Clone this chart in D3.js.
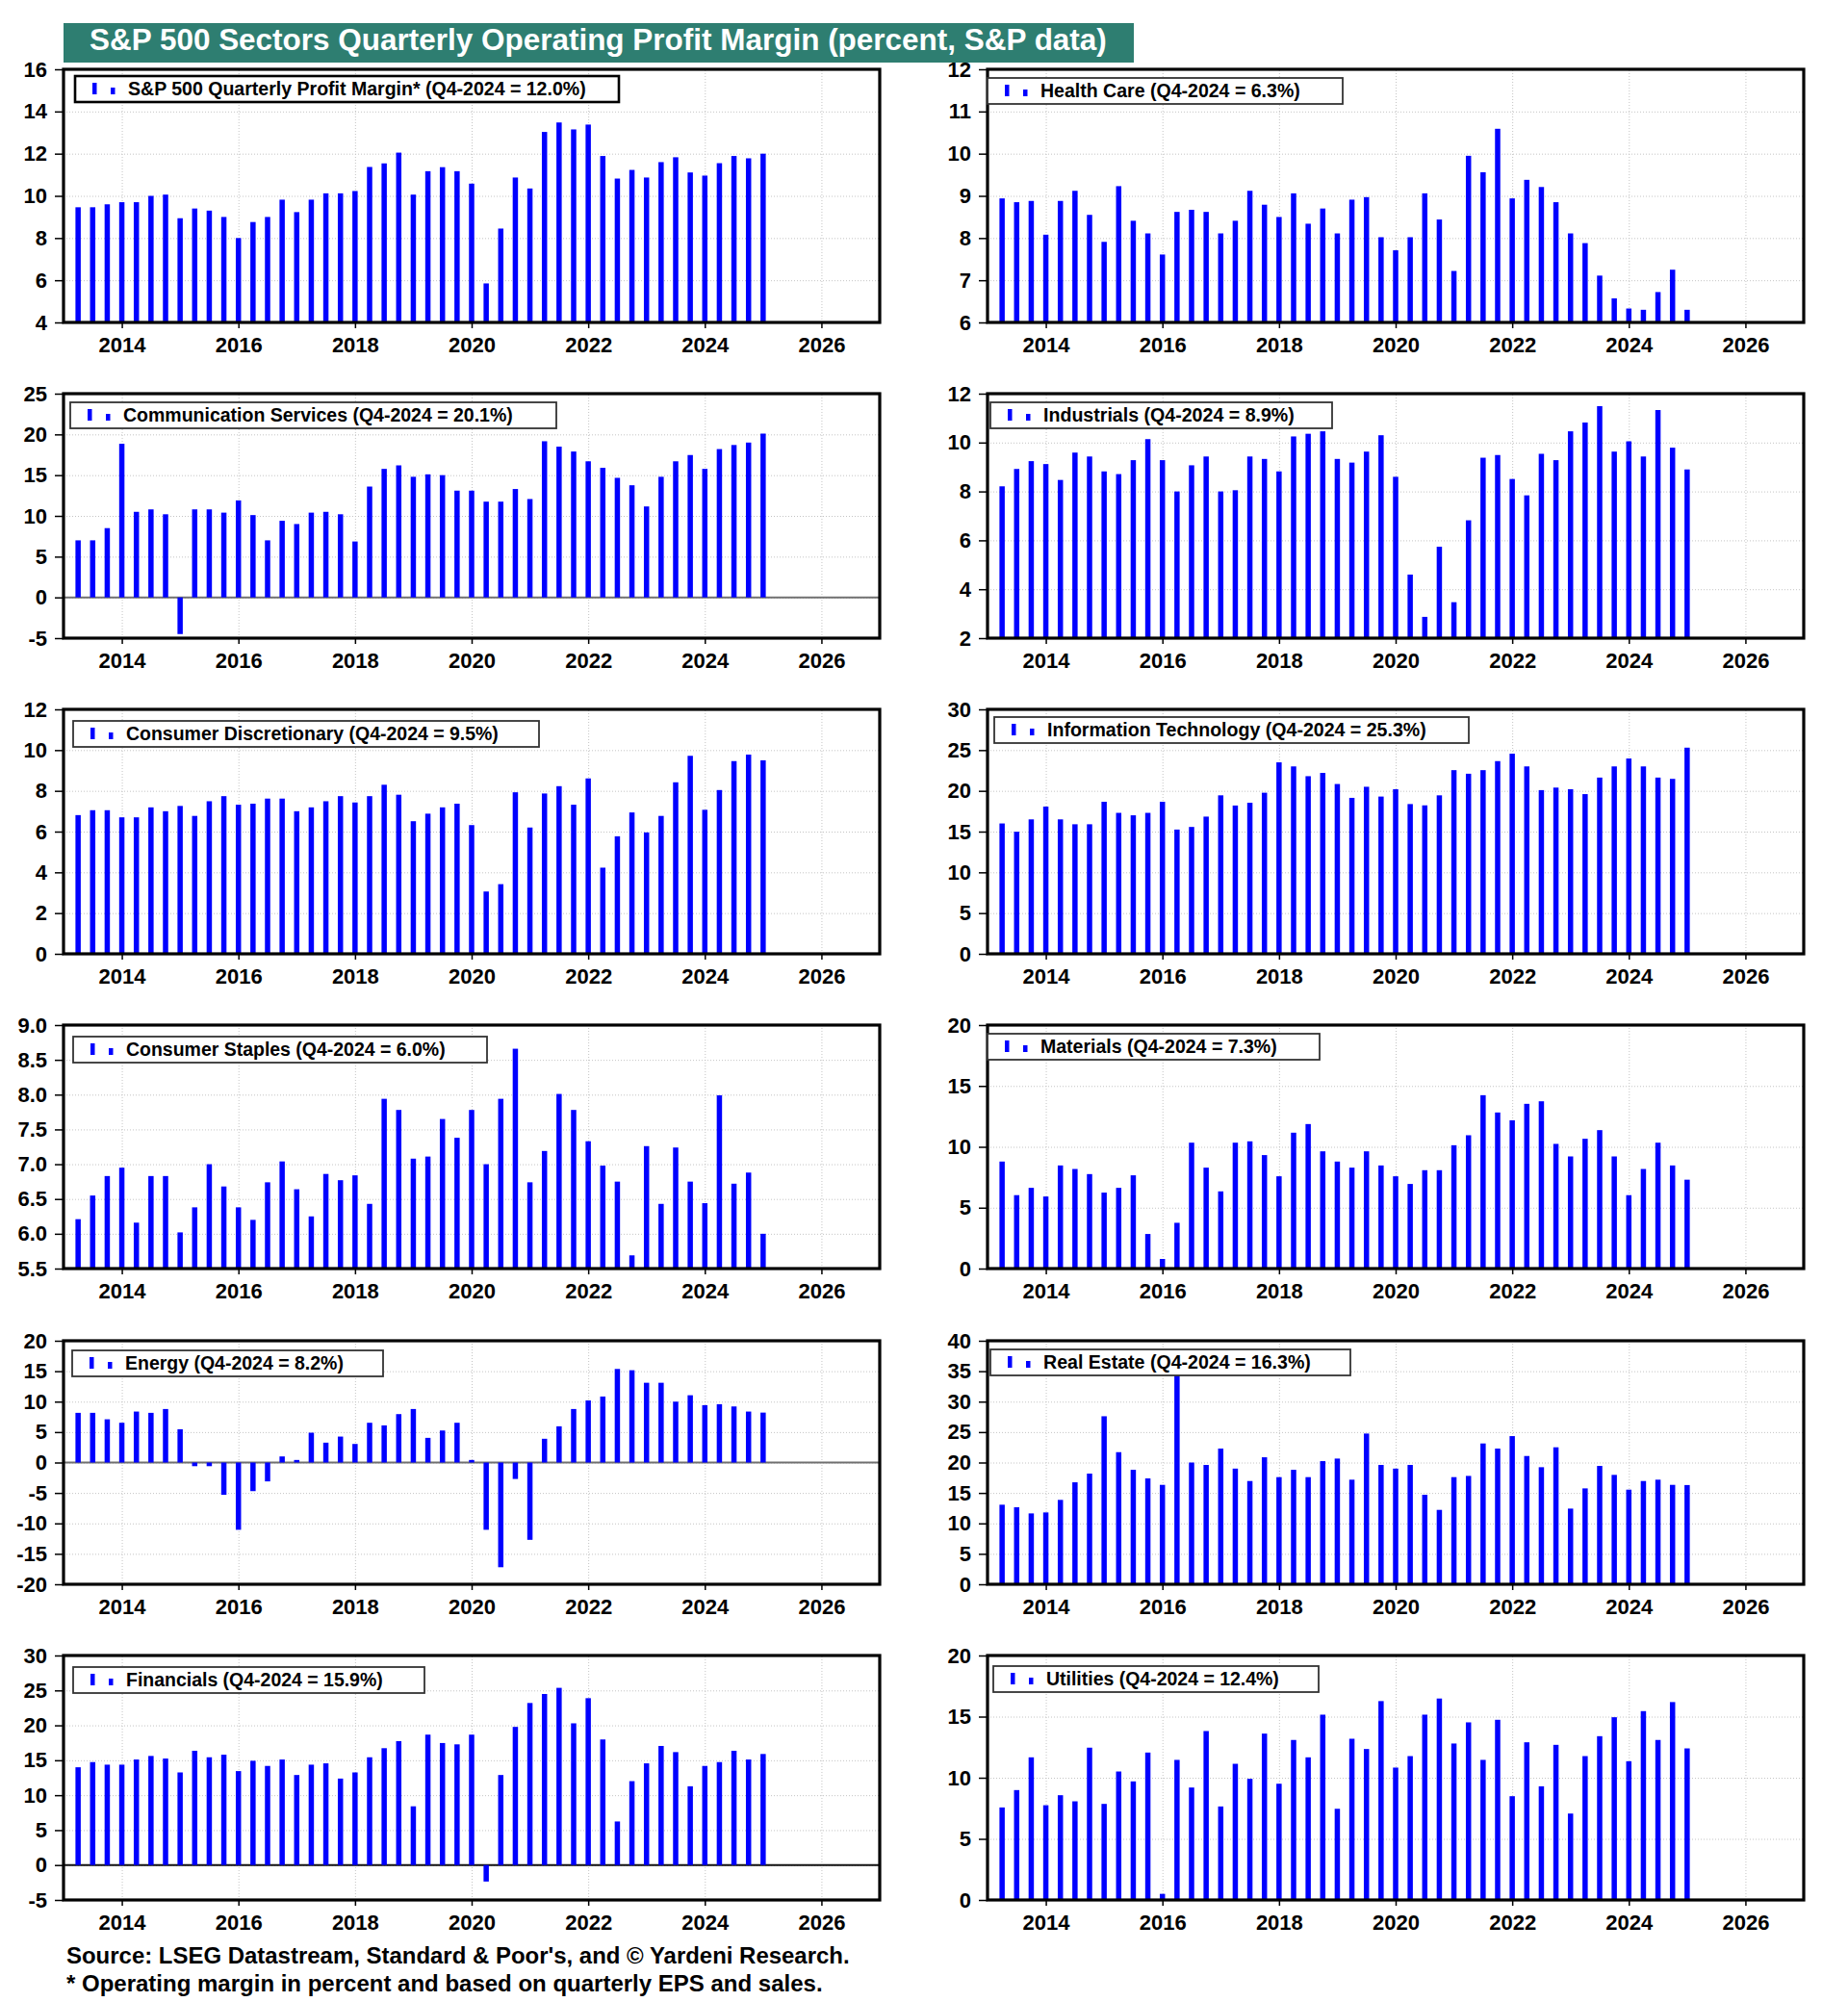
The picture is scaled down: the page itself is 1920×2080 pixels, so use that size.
<!DOCTYPE html>
<html><head><meta charset="utf-8">
<script src="https://cdn.jsdelivr.net/npm/d3@7"></script>
<style>
body{margin:0;background:#fff}
text{font-family:"Liberation Sans",Arial,Helvetica,sans-serif;font-weight:bold}
</style>
</head><body>
<svg id="c" width="1920" height="2080"></svg>
<script>
// ---------- DATA ----------
const quarters = [
 "2013Q1","2013Q2","2013Q3","2013Q4","2014Q1","2014Q2","2014Q3","2014Q4",
 "2015Q1","2015Q2","2015Q3","2015Q4","2016Q1","2016Q2","2016Q3","2016Q4",
 "2017Q1","2017Q2","2017Q3","2017Q4","2018Q1","2018Q2","2018Q3","2018Q4",
 "2019Q1","2019Q2","2019Q3","2019Q4","2020Q1","2020Q2","2020Q3","2020Q4",
 "2021Q1","2021Q2","2021Q3","2021Q4","2022Q1","2022Q2","2022Q3","2022Q4",
 "2023Q1","2023Q2","2023Q3","2023Q4","2024Q1","2024Q2","2024Q3","2024Q4"];
const yearTicks = [2014,2016,2018,2020,2022,2024,2026];

const spx = [9.46,9.46,9.6,9.7,9.7,10.0,10.06,8.94,9.4,9.3,9.0,8.0,8.76,9.0,9.82,9.23,9.82,10.12,10.12,10.23,11.37,11.54,12.05,10.06,11.17,11.36,11.17,10.58,5.85,8.45,10.87,10.35,13.03,13.48,13.15,13.38,11.89,10.82,11.23,10.87,11.6,11.83,11.11,10.96,11.55,11.89,11.78,12.0];
const healthCare = [8.94,8.85,8.88,8.08,8.88,9.12,8.55,7.91,9.23,8.41,8.11,7.61,8.62,8.67,8.62,8.11,8.41,9.12,8.79,8.5,9.06,8.34,8.7,8.11,8.91,8.97,8.02,7.71,8.02,9.06,8.44,7.22,9.95,9.56,10.59,8.94,9.38,9.21,8.85,8.11,7.88,7.11,6.57,6.33,6.3,6.72,7.25,6.3];
const commServices = [7.0,7.0,8.5,18.85,10.5,10.8,10.2,-4.5,10.8,10.8,10.4,11.9,10.1,7.0,9.4,9.0,10.4,10.5,10.2,6.86,13.6,15.77,16.2,14.8,15.1,15.0,13.1,13.1,11.75,11.75,13.3,12.07,19.16,18.5,17.9,16.7,15.9,14.67,13.76,11.16,14.8,16.7,17.47,15.77,18.2,18.7,19.0,20.1];
const industrials = [8.21,8.92,9.24,9.12,8.47,9.59,9.43,8.82,8.71,9.28,10.14,9.28,8.0,9.07,9.43,8.0,8.05,9.43,9.33,8.82,10.25,10.36,10.46,9.33,9.18,9.63,10.3,8.6,4.6,2.87,5.74,3.47,6.82,9.38,9.49,8.51,7.84,9.54,9.28,10.46,10.82,11.49,9.63,10.05,9.43,11.33,9.79,8.9];
const consDisc = [6.81,7.05,7.05,6.7,6.7,7.19,7.0,7.26,6.77,7.49,7.74,7.32,7.37,7.62,7.62,7.0,7.19,7.49,7.74,7.43,7.74,8.3,7.81,6.51,6.88,7.19,7.37,6.32,3.06,3.42,7.93,6.2,7.87,8.23,7.32,8.61,4.23,5.77,6.94,5.96,6.77,8.42,9.72,7.07,8.04,9.46,9.78,9.5];
const infoTech = [16.0,14.98,16.5,18.07,16.5,15.9,15.9,18.66,17.3,17.0,17.3,18.66,15.25,15.57,16.84,19.45,18.2,18.54,19.77,23.5,23.0,21.8,22.2,20.84,19.14,20.5,19.3,20.2,18.38,18.22,19.45,22.54,22.1,22.54,23.65,24.56,23.0,20.09,20.4,20.2,19.6,21.63,23.0,23.97,23.0,21.63,21.47,25.3];
const consStaples = [6.21,6.55,6.83,6.95,6.16,6.83,6.83,6.02,6.38,7.0,6.68,6.38,6.2,6.74,7.04,6.64,6.25,6.86,6.77,6.84,6.43,7.94,7.78,7.08,7.11,7.65,7.38,7.78,7.0,7.94,8.66,6.74,7.19,8.01,7.78,7.33,6.98,6.75,5.69,7.26,6.43,7.24,6.75,6.44,7.99,6.72,6.88,6.0];
const materials = [8.79,6.03,6.63,5.92,8.47,8.18,7.76,6.24,6.63,7.66,2.84,0.79,3.76,10.34,8.29,6.34,10.34,10.45,9.32,7.58,11.16,11.87,9.63,8.79,8.29,9.63,8.47,7.58,6.95,8.08,8.08,10.13,10.95,14.24,12.82,12.18,13.53,13.74,10.24,9.21,10.66,11.37,9.21,6.03,8.18,10.34,8.47,7.3];
const energy = [8.16,8.16,7.1,6.53,8.37,8.16,8.79,5.47,-0.6,-0.6,-5.3,-11.05,-4.7,-3.1,1.0,0.42,4.9,3.26,4.26,3.05,6.53,6.1,7.95,8.79,4.05,5.26,6.53,0.42,-11.05,-17.2,-2.7,-12.7,3.9,5.95,8.79,10.2,10.84,15.37,15.16,13.1,13.1,10.0,11.05,9.42,9.58,9.21,8.37,8.2];
const realEstate = [13.07,12.65,11.64,11.8,13.86,16.75,18.18,27.6,21.7,18.8,17.39,16.33,36.0,20.0,19.6,22.29,19.0,16.96,20.86,17.6,18.8,17.6,20.23,20.65,17.18,24.76,19.6,19.0,19.6,14.7,12.22,17.6,17.8,23.13,22.29,24.34,21.07,19.23,22.5,12.43,15.75,19.44,17.97,15.54,16.96,17.18,16.33,16.3];
const financials = [14.0,14.74,14.37,14.37,15.11,15.62,15.25,13.26,16.36,15.43,15.8,13.45,14.93,14.19,15.11,12.89,14.37,14.56,12.38,13.26,15.43,16.73,17.74,8.41,18.67,17.47,17.28,18.67,-2.36,12.89,19.78,23.2,24.49,25.37,20.29,23.89,17.98,6.24,12.01,14.56,17.05,16.17,11.28,14.19,14.74,16.36,15.11,15.9];
const utilities = [7.57,8.99,11.67,7.75,8.57,8.07,12.46,7.86,10.51,9.7,12.06,0.5,11.46,9.2,13.82,7.65,11.14,9.91,13.61,9.51,13.09,11.67,15.16,7.46,13.19,12.35,16.27,10.83,11.77,15.16,16.48,12.8,14.53,11.46,14.74,8.49,12.9,9.3,12.69,7.07,11.77,13.4,14.95,11.35,15.45,13.09,16.19,12.4];

const legendLabels = [
 "S&P 500 Quarterly Profit Margin* (Q4-2024 = 12.0%)",
 "Health Care (Q4-2024 = 6.3%)",
 "Communication Services (Q4-2024 = 20.1%)",
 "Industrials (Q4-2024 = 8.9%)",
 "Consumer Discretionary (Q4-2024 = 9.5%)",
 "Information Technology (Q4-2024 = 25.3%)",
 "Consumer Staples (Q4-2024 = 6.0%)",
 "Materials (Q4-2024 = 7.3%)",
 "Energy (Q4-2024 = 8.2%)",
 "Real Estate (Q4-2024 = 16.3%)",
 "Financials (Q4-2024 = 15.9%)",
 "Utilities (Q4-2024 = 12.4%)"];
const seriesList = [spx,healthCare,commServices,industrials,consDisc,infoTech,consStaples,materials,energy,realEstate,financials,utilities];
const yTickLabels = [
 [4,6,8,10,12,14,16],
 [6,7,8,9,10,11,12],
 [-5,0,5,10,15,20,25],
 [2,4,6,8,10,12],
 [0,2,4,6,8,10,12],
 [0,5,10,15,20,25,30],
 [5.5,6.0,6.5,7.0,7.5,8.0,8.5,9.0],
 [0,5,10,15,20],
 [-20,-15,-10,-5,0,5,10,15,20],
 [0,5,10,15,20,25,30,35,40],
 [-5,0,5,10,15,20,25,30],
 [0,5,10,15,20]];
const yTickDecimals = [0,0,0,0,0,0,1,0,0,0,0,0];

const titleText = "S&P 500 Sectors Quarterly Operating Profit Margin (percent, S&P data)";
const footerLines = ["Source: LSEG Datastream, Standard & Poor's, and \u00A9 Yardeni Research.",
                     "* Operating margin in percent and based on quarterly EPS and sales."];

// ---------- LAYOUT ----------
const colLeft = [66, 1026], colWidth = 848;
const rows = [[72,335],[409,663],[737,991],[1065,1318],[1393,1646],[1720,1974]];
const legendOffsets = [[12,7],[0,9],[7,9],[3,9],[10,12],[7,8],[10,12],[0,9],[9,10],[3,9],[10,12],[6,11]];
const legendTextWidths = [476,270,405,261,387,394,332,246,227,278,267,242];
const legendGaps = [34,44,45,39,42,44,43,44,41,41,43,41];
const BLUE = "#0000ff";

const svg = d3.select("#c");
svg.append("rect").attr("width",1920).attr("height",2080).attr("fill","#fff");

function fitWidth(sel, fs, target){
  const w = sel.node().getComputedTextLength();
  if (w > 0) sel.attr("font-size", fs * target / w);
}
function qpos(q){ return +q.slice(0,4) + (+q.slice(5))/4; }

// title
svg.append("rect").attr("x",66).attr("y",24).attr("width",1112).attr("height",41).attr("fill","#2e7e71");
const tt = svg.append("text").attr("x",93).attr("y",52).attr("fill","#fff").attr("font-size",26).text(titleText);
fitWidth(tt, 26, 1057);

seriesList.forEach((vals, i) => {
  const col = i % 2, row = Math.floor(i/2);
  const L = colLeft[col], R = L + colWidth, T = rows[row][0], B = rows[row][1];
  const ticks = yTickLabels[i];
  const dom = [ticks[0], ticks[ticks.length-1]];
  const x = d3.scaleLinear().domain([2013,2027]).range([L,R]);
  const y = d3.scaleLinear().domain(dom).range([B,T]);
  const fmt = d => (d < 0 ? "-" : "") + Math.abs(d).toFixed(yTickDecimals[i]);
  const g = svg.append("g");

  // grid
  g.append("g").attr("transform",`translate(0,${B})`)
    .call(d3.axisBottom(x).tickValues(yearTicks).tickSize(-(B-T)).tickFormat(""))
    .call(s=>{s.select(".domain").remove();
      s.selectAll("line").attr("stroke","#c4c4c4").attr("stroke-width",1).attr("stroke-dasharray","1,2");});
  g.append("g").attr("transform",`translate(${L},0)`)
    .call(d3.axisLeft(y).tickValues(ticks.slice(1,-1)).tickSize(-(R-L)).tickFormat(""))
    .call(s=>{s.select(".domain").remove();
      s.selectAll("line").attr("stroke","#c4c4c4").attr("stroke-width",1).attr("stroke-dasharray","1,2");});

  // zero line
  const base = dom[0] > 0 ? dom[0] : 0;
  if (dom[0] < 0) {
    g.append("line").attr("x1",L).attr("x2",R).attr("y1",y(0)).attr("y2",y(0))
      .attr("stroke", i===10 ? "#111" : "#707070").attr("stroke-width",2);
  }

  // bars
  const bw = 5.5;
  g.append("g").selectAll("rect").data(vals).join("rect")
    .attr("x",(d,k)=>x(qpos(quarters[k]))-bw/2)
    .attr("y",d=>y(Math.max(d,base)))
    .attr("width",bw)
    .attr("height",d=>Math.abs(y(d)-y(base)))
    .attr("fill",BLUE);

  // frame
  g.append("rect").attr("x",L).attr("y",T).attr("width",R-L).attr("height",B-T)
    .attr("fill","none").attr("stroke","#000").attr("stroke-width",3.2);

  // axes
  g.append("g").attr("transform",`translate(${L},0)`)
    .call(d3.axisLeft(y).tickValues(ticks).tickSize(9).tickPadding(8).tickFormat(fmt))
    .call(s=>{s.select(".domain").remove();
      s.selectAll("line").attr("stroke","#000").attr("stroke-width",1.5);
      s.selectAll("text").attr("font-size",22).attr("fill","#000")
        .attr("font-family",'"Liberation Sans",Arial,sans-serif').attr("font-weight","bold");});
  g.append("g").attr("transform",`translate(0,${B})`)
    .call(d3.axisBottom(x).tickValues(yearTicks).tickSize(6).tickPadding(9).tickFormat(d3.format("d")))
    .call(s=>{s.select(".domain").remove();
      s.selectAll("line").attr("stroke","#000").attr("stroke-width",1.5);
      s.selectAll("text").attr("font-size",22).attr("fill","#000")
        .attr("font-family",'"Liberation Sans",Arial,sans-serif').attr("font-weight","bold");});

  // legend
  const lx = L + legendOffsets[i][0], ly = T + legendOffsets[i][1];
  const lg = g.append("g");
  const box = lg.append("rect").attr("x",lx).attr("y",ly).attr("height",27)
    .attr("fill","#fff").attr("stroke", i===0 ? "#000" : "#333").attr("stroke-width", i===0 ? 2.6 : 1.8);
  lg.append("rect").attr("x",lx+18).attr("y",ly+7).attr("width",4.5).attr("height",12).attr("fill",BLUE);
  lg.append("rect").attr("x",lx+37).attr("y",ly+12).attr("width",4.5).attr("height",7).attr("fill",BLUE);
  const lt = lg.append("text").attr("x",lx+55).attr("y",ly+20).attr("font-size",18).attr("fill","#000").text(legendLabels[i]);
  fitWidth(lt, 18, legendTextWidths[i]);
  box.attr("width", 55 + legendTextWidths[i] + legendGaps[i]);
});

// footer
const f1 = svg.append("text").attr("x",69).attr("y",2040).attr("font-size",20).attr("fill","#000").text(footerLines[0]);
fitWidth(f1, 20, 814);
const f2 = svg.append("text").attr("x",69).attr("y",2069).attr("font-size",20).attr("fill","#000").text(footerLines[1]);
fitWidth(f2, 20, 786);
</script>
</body></html>
